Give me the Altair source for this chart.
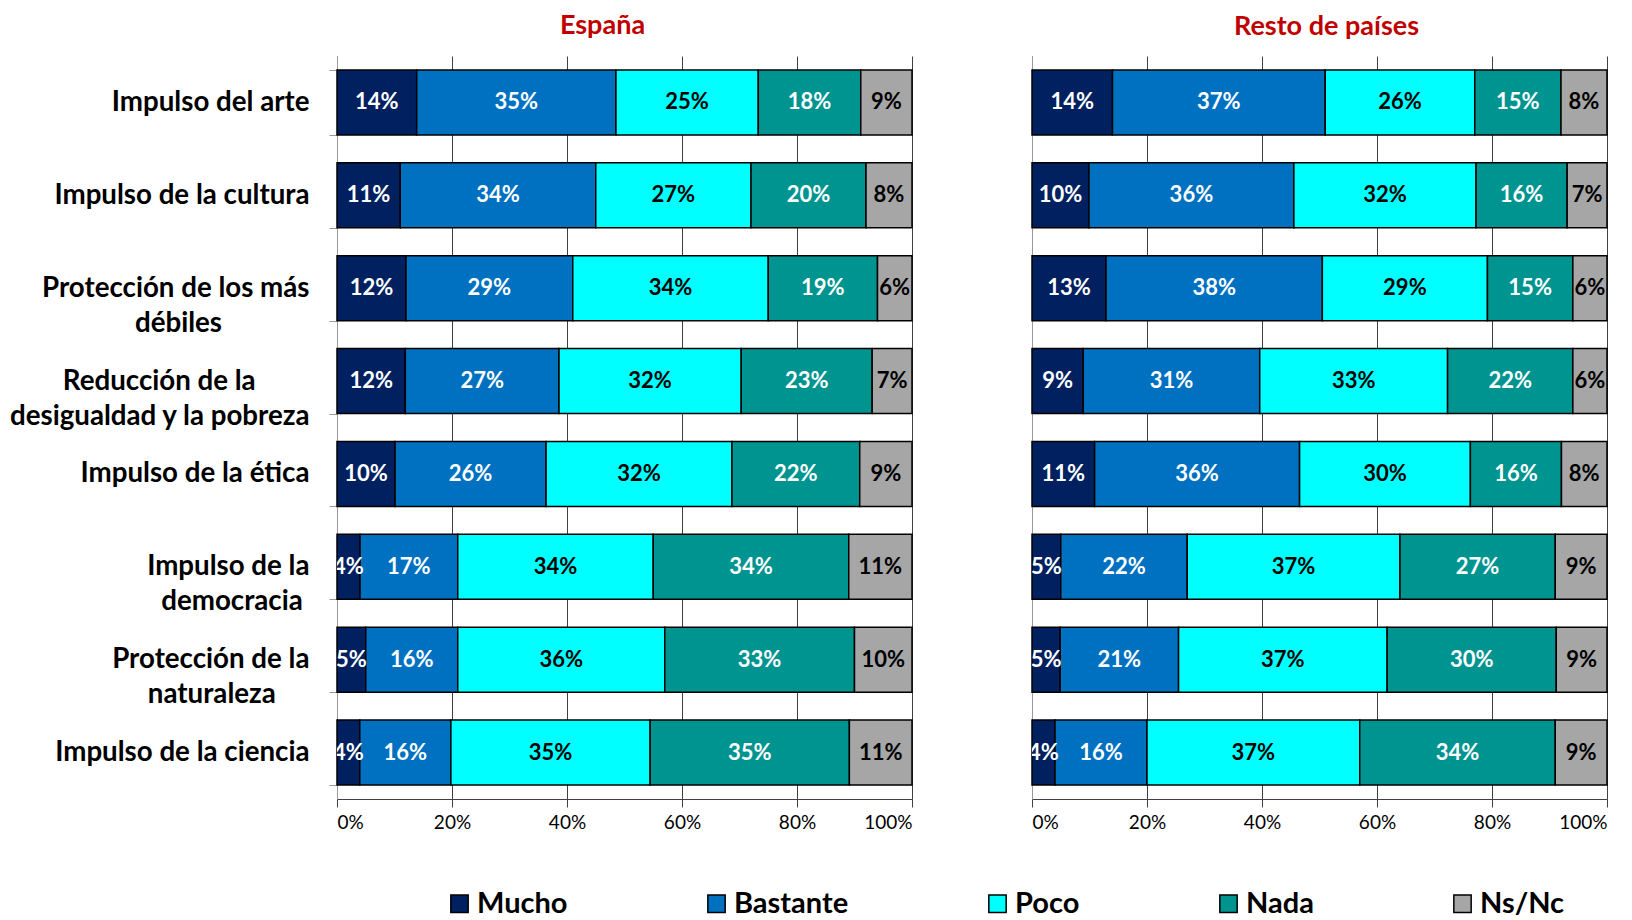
import altair as alt
import pandas as pd

NB = "\u00a0"
ZW = "\u200b"

categories = [
    "Impulso del arte",
    "Impulso de la cultura",
    "Protección de los más|débiles" + NB * 13 + ZW,
    "Reducción de la" + NB * 8 + ZW + "|desigualdad y la pobreza",
    "Impulso de la ética",
    "Impulso de la|democracia" + NB * 1 + ZW,
    "Protección de la|naturaleza" + NB * 5 + ZW,
    "Impulso de la ciencia",
]

levels = ["Mucho", "Bastante", "Poco", "Nada", "Ns/Nc"]
colors = ["#002060", "#0070C0", "#00FFFF", "#009490", "#A6A6A6"]

# España
es_mucho = [14, 11, 12, 12, 10, 4, 5, 4]
es_bastante = [35, 34, 29, 27, 26, 17, 16, 16]
es_poco = [25, 27, 34, 32, 32, 34, 36, 35]
es_nada = [18, 20, 19, 23, 22, 34, 33, 35]
es_nsnc = [9, 8, 6, 7, 9, 11, 10, 11]

# Resto de países
rp_mucho = [14, 10, 13, 9, 11, 5, 5, 4]
rp_bastante = [37, 36, 38, 31, 36, 22, 21, 16]
rp_poco = [26, 32, 29, 33, 30, 37, 37, 37]
rp_nada = [15, 16, 15, 22, 16, 27, 30, 34]
rp_nsnc = [8, 7, 6, 6, 8, 9, 9, 9]

rows = []
for country, series in [
    ("España", [es_mucho, es_bastante, es_poco, es_nada, es_nsnc]),
    ("Resto de países", [rp_mucho, rp_bastante, rp_poco, rp_nada, rp_nsnc]),
]:
    for li, (lev, vals) in enumerate(zip(levels, series)):
        for cat, v in zip(categories, vals):
            rows.append({"country": country, "cat": cat, "level": lev, "ord": li, "value": v})
df = pd.DataFrame(rows)

FONT = "Lato"


def panel(country, show_labels, show_legend, dx, offset):
    base = (
        alt.Chart(df[df.country == country])
        .transform_stack(
            stack="value",
            as_=["v0", "v1"],
            groupby=["cat"],
            offset="normalize",
            sort=[alt.SortField("ord", order="ascending")],
        )
        .transform_calculate(mid="(datum.v0 + datum.v1) / 2", lab="datum.value + '%'")
    )
    if show_labels:
        yaxis = alt.Axis(
            title=None,
            labelFont=FONT,
            labelFontSize=27.7,
            labelFontWeight="bold",
            labelColor="black",
            labelExpr="split(datum.label, '|')",
            labelLineHeight=35,
            labelLimit=0,
            labelPadding=20,
            tickBand="extent",
            tickSize=8,
            tickColor="#999999",
            domainColor="#999999",
            grid=False,
        )
    else:
        yaxis = alt.Axis(title=None, labels=False, ticks=False, domainColor="#999999", grid=False)
    yenc = alt.Y(
        "cat:N",
        sort=categories,
        scale=alt.Scale(paddingInner=0.3, paddingOuter=0.15),
        axis=yaxis,
    )
    if show_legend:
        legend = alt.Legend(
            orient="none",
            legendX=108,
            legendY=833,
            direction="horizontal",
            title=None,
            symbolType="square",
            symbolSize=300,
            symbolStrokeColor="black",
            symbolStrokeWidth=1.5,
            labelFont=FONT,
            labelFontSize=29,
            labelFontWeight="bold",
            labelColor="black",
            columnPadding=134,
            labelOffset=3,
        )
    else:
        legend = None
    bars = base.mark_bar(stroke="black", strokeWidth=1.5).encode(
        x=alt.X(
            "v0:Q",
            scale=alt.Scale(domain=[0, 1]),
            axis=alt.Axis(
                values=[0, 0.2, 0.4, 0.6, 0.8, 1],
                format="%",
                title=None,
                grid=True,
                gridColor="#404040",
                domainColor="#404040",
                tickColor="#404040",
                tickSize=8,
                labelFont=FONT,
                labelFontSize=19,
                labelColor="black",
                labelPadding=6,
            ),
        ),
        x2="v1:Q",
        y=yenc,
        color=alt.Color("level:N", scale=alt.Scale(domain=levels, range=colors), legend=legend),
    )
    text = base.mark_text(font=FONT, fontWeight="bold", fontSize=22, clip=True).encode(
        x=alt.X("mid:Q"),
        y=alt.Y("cat:N", sort=categories),
        text="lab:N",
        color=alt.condition(
            "datum.level == 'Poco' || datum.level == 'Ns/Nc'",
            alt.value("black"),
            alt.value("white"),
        ),
    )
    return (bars + text).properties(
        width=575,
        height=743,
        title=alt.TitleParams(
            country,
            color="#C00000",
            fontSize=27,
            font=FONT,
            fontWeight="bold",
            offset=offset,
            dx=dx,
        ),
    )


left = panel("España", True, True, -22, 2)
right = panel("Resto de países", False, False, 7, 15)

chart = (
    alt.hconcat(
        left,
        right,
        spacing=120,
        bounds="flush",
        padding={"top": 4, "left": 0, "right": 0, "bottom": 0},
    )
    .resolve_scale(color="shared")
    .configure_view(stroke=None)
)

chart.save("out.html", embed_options={"renderer": "svg", "actions": False})
